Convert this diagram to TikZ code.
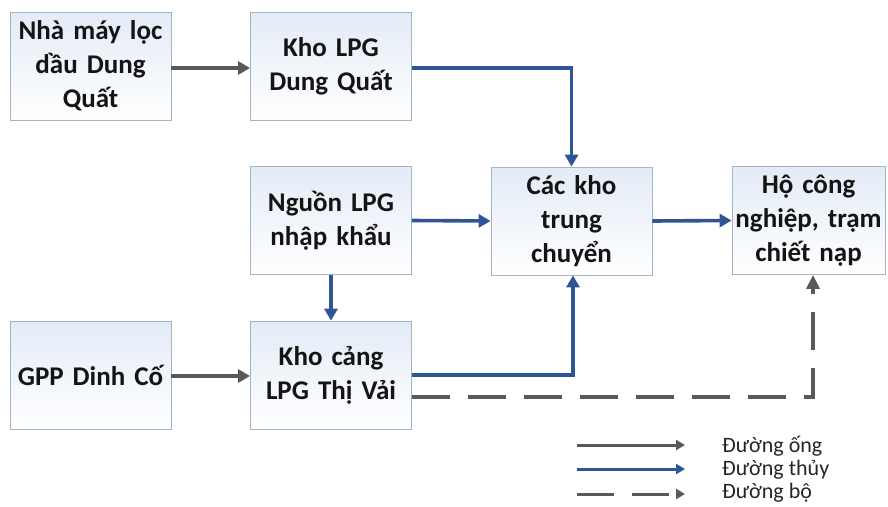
\documentclass[tikz,border=0pt]{standalone}
\usepackage{fontspec}
\setmainfont{Carlito}
\usetikzlibrary{arrows.meta,positioning,calc}

\definecolor{waterblue}{HTML}{2F5597}
\definecolor{pipegray}{HTML}{595959}
\definecolor{boxedge}{HTML}{A3B4C6}
\definecolor{boxtop}{HTML}{E3EBF6}

\begin{document}
\begin{tikzpicture}[
  x=1pt, y=-1pt,
  box/.style={draw=boxedge, line width=0.8pt, top color=boxtop, bottom color=white,
    minimum width=161pt, minimum height=108pt, align=center, text width=155pt,
    font=\fontsize{27}{34}\selectfont\bfseries, text=black!92, inner sep=0pt},
  pipe/.style={pipegray, line width=3.6pt, -{Triangle[length=12pt,width=13pt]}},
  water/.style={waterblue, line width=3.6pt, -{Triangle[length=12pt,width=13pt]}},
  road/.style={pipegray, line width=3.6pt, dash pattern=on 38pt off 18pt,
    -{Triangle[length=14pt,width=13pt]}},
  legtxt/.style={anchor=west, font=\fontsize{22}{24}\selectfont, text=black!85, inner sep=0pt}]

\useasboundingbox (0,0) rectangle (888,506);

% =================== the boxes ===========================================
\node[box] (nhamay) at (90.5,66)  {Nhà máy lọc\\dầu Dung\\Quất};
\node[box] (khodq)  at (331,66)   {Kho LPG\\Dung Quất};
\node[box] (nguon)  at (331,220.5) {Nguồn LPG\\nhập khẩu};
\node[box] (trung)  at (571.5,221) {Các kho\\trung\\chuyển};
\node[box, minimum width=153pt, text width=150pt] (ho) at (808.5,220.5)
      {Hộ công\\nghiệp, trạm\\chiết nạp};
\node[box] (gpp)    at (90.5,375) {GPP Dinh Cố};
\node[box] (thivai) at (331,375)  {Kho cảng\\LPG Thị Vải};

% =================== the flows ===========================================
\draw[pipe]  ([yshift=-2]nhamay.east) -- ([yshift=-2]khodq.west);
\draw[water] ([yshift=-2]khodq.east) -| (trung.north);
\draw[water] (nguon.east) -- (trung.west);
\draw[water] (trung.east) -- (ho.west);
\draw[water] (nguon.south) -- (thivai.north);
\draw[pipe]  ([yshift=-1]gpp.east) -- ([yshift=-1]thivai.west);
\draw[water] (thivai.east) -| ([xshift=1.5]trung.south);
\draw[road]  ([yshift=-22]thivai.east) -| ([xshift=4.5]ho.south);

% =================== legend ==============================================
\node[legtxt] (lgong)  at (722,446) {Đường ống};
\node[legtxt] (lgthuy) at (722,470) {Đường thủy};
\node[legtxt] (lgbo)   at (722,493) {Đường bộ};
\coordinate (ongA)  at (577,445);
\coordinate (thuyA) at (577,469);
\coordinate (boA)   at (577,494);
\draw[pipe, line width=3pt, -{Triangle[length=9pt,width=10pt]}] (ongA) -- ++(108,0);
\draw[water, line width=3pt, -{Triangle[length=9pt,width=10pt]}] (thuyA) -- ++(108,0);
\draw[road, line width=3pt, dash pattern=on 37pt off 18pt,
      -{Triangle[length=9pt,width=10pt]}] (boA) -- ++(108,0);
\end{tikzpicture}
\end{document}
